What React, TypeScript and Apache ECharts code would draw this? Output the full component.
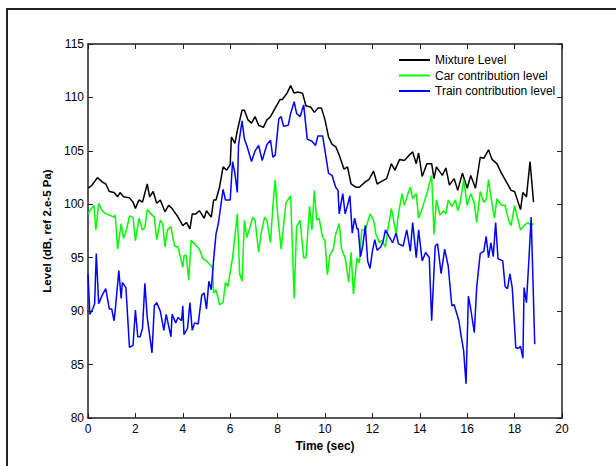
import React, { useEffect, useRef } from "react";
import * as echarts from "echarts";

const xTicks = { min: 0, max: 20, interval: 2 };
const yTicks = { min: 80, max: 115, interval: 5 };
const seriesNames = ["Mixture Level", "Car contribution level", "Train contribution level"];
const xTitle = "Time (sec)";
const yTitle = "Level (dB, ref 2.e-5 Pa)";

const mixture: [number, number][] = [
  [0, 101.5], [0.17, 101.8], [0.4, 102.5], [0.6, 102.1], [0.75, 101.9], [0.9, 101.2], [1.1, 101.1], [1.25, 100.7],
  [1.35, 101.1], [1.5, 100.7], [1.75, 100.6], [1.9, 100.2], [2.0, 99.6], [2.15, 100.4], [2.3, 100.2], [2.5, 101.9],
  [2.6, 100.7], [2.75, 101.2], [2.9, 100.1], [3.05, 100.4], [3.25, 99.3], [3.4, 99.9], [3.55, 99.6], [3.8, 98.8],
  [4.0, 98.0], [4.15, 98.3], [4.3, 97.7], [4.4, 99.1], [4.55, 99.1], [4.7, 99.4], [4.9, 98.7], [5.0, 99.4],
  [5.2, 98.8], [5.3, 100.4], [5.4, 100.4], [5.55, 101.6], [5.7, 103.5], [5.85, 103.2], [6.0, 103.7], [6.05, 106.3],
  [6.2, 105.7], [6.3, 106.9], [6.5, 108.8], [6.6, 108.8], [6.75, 107.9], [6.9, 107.6], [7.05, 108.2], [7.2, 107.4],
  [7.4, 107.2], [7.55, 107.9], [7.7, 108.2], [7.9, 109.0], [8.1, 109.8], [8.2, 109.8], [8.4, 110.4], [8.55, 111.1],
  [8.7, 110.4], [8.85, 110.5], [9.05, 110.4], [9.2, 109.2], [9.4, 109.1], [9.55, 108.6], [9.7, 109.0], [9.85, 109.0],
  [10.0, 107.9], [10.15, 106.3], [10.3, 105.6], [10.45, 105.4], [10.6, 104.6], [10.8, 103.3], [10.95, 103.5], [11.1, 101.9],
  [11.3, 101.6], [11.45, 101.6], [11.7, 102.1], [11.85, 102.3], [12.05, 103.1], [12.2, 101.9], [12.35, 102.1], [12.6, 102.4],
  [12.8, 103.8], [12.95, 103.2], [13.15, 104.2], [13.35, 104.1], [13.55, 104.6], [13.7, 104.9], [13.85, 103.8], [13.95, 104.8],
  [14.1, 102.6], [14.3, 103.8], [14.5, 103.8], [14.6, 102.4], [14.7, 103.5], [14.95, 102.7], [15.1, 103.4], [15.25, 101.8],
  [15.45, 102.4], [15.6, 101.3], [15.8, 102.9], [16.0, 101.5], [16.15, 102.7], [16.35, 101.5], [16.55, 104.4], [16.7, 104.3],
  [16.9, 105.1], [17.05, 104.2], [17.25, 103.8], [17.45, 102.9], [17.7, 101.9], [17.85, 101.3], [18.0, 101.2], [18.25, 99.5],
  [18.35, 101.1], [18.5, 100.7], [18.65, 104.0], [18.8, 100.2],
];

const car: [number, number][] = [
  [0, 99.1], [0.08, 99.4], [0.25, 99.9], [0.33, 97.6], [0.45, 100.1], [0.6, 99.4], [0.75, 99.1], [0.9, 99.0],
  [1.1, 98.8], [1.15, 99.0], [1.25, 95.8], [1.4, 98.2], [1.5, 96.8], [1.6, 97.4], [1.75, 98.9], [1.9, 98.8],
  [2.0, 96.6], [2.15, 98.7], [2.3, 97.6], [2.4, 97.8], [2.5, 99.5], [2.65, 99.1], [2.8, 98.8], [2.9, 96.7],
  [3.05, 98.5], [3.15, 98.2], [3.25, 96.0], [3.35, 97.6], [3.5, 97.9], [3.65, 96.1], [3.8, 96.0], [4.0, 94.1],
  [4.05, 95.2], [4.15, 95.2], [4.25, 92.9], [4.35, 96.6], [4.5, 96.3], [4.7, 95.8], [4.85, 94.9], [5.0, 94.7],
  [5.25, 94.1], [5.3, 91.7], [5.4, 92.0], [5.55, 90.6], [5.7, 90.8], [5.8, 92.7], [5.9, 92.3], [6.1, 95.0],
  [6.3, 99.1], [6.4, 93.5], [6.5, 92.8], [6.6, 98.5], [6.7, 96.9], [6.8, 97.6], [6.95, 98.8], [7.05, 98.5],
  [7.2, 95.5], [7.3, 97.2], [7.45, 98.8], [7.55, 98.5], [7.7, 96.4], [7.8, 99.8], [7.9, 102.3], [8.0, 99.1],
  [8.15, 95.8], [8.35, 100.1], [8.55, 100.8], [8.7, 91.2], [8.8, 97.9], [8.95, 98.5], [9.1, 95.0], [9.2, 95.0],
  [9.35, 99.8], [9.45, 97.6], [9.55, 101.3], [9.65, 98.5], [9.75, 98.7], [9.9, 96.9], [10.0, 96.6], [10.1, 93.4],
  [10.2, 95.2], [10.35, 95.8], [10.45, 97.2], [10.6, 98.2], [10.7, 95.8], [10.85, 95.0], [11.0, 92.7], [11.1, 95.5],
  [11.2, 91.6], [11.35, 95.0], [11.45, 94.5], [11.55, 97.6], [11.7, 97.6], [11.9, 99.1], [12.05, 98.5], [12.15, 97.2],
  [12.3, 96.4], [12.4, 96.6], [12.55, 96.0], [12.65, 97.6], [12.8, 99.6], [12.85, 99.1], [13.0, 97.2], [13.1, 99.1],
  [13.25, 101.0], [13.35, 99.9], [13.5, 101.0], [13.6, 101.6], [13.7, 100.5], [13.85, 101.0], [13.95, 98.7], [14.1, 99.6],
  [14.3, 101.0], [14.4, 101.9], [14.5, 102.7], [14.6, 97.2], [14.7, 100.4], [14.85, 99.0], [15.0, 99.4], [15.1, 99.1],
  [15.2, 100.4], [15.35, 99.8], [15.5, 100.4], [15.6, 99.4], [15.7, 100.1], [15.85, 102.3], [16.0, 99.9], [16.15, 101.0],
  [16.3, 100.1], [16.4, 98.3], [16.55, 101.2], [16.7, 100.2], [16.8, 100.4], [16.9, 102.3], [17.0, 100.7], [17.15, 98.7],
  [17.25, 100.5], [17.45, 99.9], [17.6, 99.9], [17.75, 98.5], [17.85, 98.0], [18.0, 99.9], [18.15, 98.5], [18.25, 97.6],
  [18.4, 98.0], [18.55, 98.3], [18.7, 98.0], [18.8, 98.2],
];

const train: [number, number][] = [
  [0, 93.5], [0.08, 89.7], [0.2, 90.2], [0.28, 90.7], [0.35, 95.4], [0.45, 90.7], [0.6, 91.5], [0.75, 92.1],
  [0.9, 90.2], [1.0, 90.2], [1.1, 89.1], [1.15, 90.1], [1.3, 93.8], [1.4, 91.2], [1.45, 92.7], [1.6, 92.2],
  [1.75, 86.6], [1.9, 86.8], [2.0, 90.1], [2.1, 87.6], [2.2, 87.6], [2.3, 88.4], [2.4, 92.6], [2.5, 89.4],
  [2.7, 86.1], [2.8, 90.5], [2.9, 90.8], [3.05, 90.0], [3.2, 88.2], [3.3, 89.7], [3.5, 87.6], [3.55, 89.7],
  [3.7, 88.9], [3.8, 89.4], [3.95, 89.1], [4.0, 90.5], [4.05, 87.8], [4.2, 88.4], [4.3, 90.8], [4.4, 88.2],
  [4.5, 88.9], [4.65, 88.8], [4.8, 91.5], [4.9, 91.7], [5.0, 90.2], [5.1, 92.8], [5.2, 92.0], [5.3, 94.8],
  [5.4, 97.2], [5.5, 98.2], [5.6, 99.8], [5.7, 101.4], [5.8, 100.4], [6.0, 100.4], [6.1, 104.0], [6.2, 102.9],
  [6.3, 101.1], [6.35, 105.5], [6.5, 107.8], [6.6, 106.1], [6.7, 105.5], [6.9, 104.0], [7.05, 105.0], [7.2, 105.5],
  [7.35, 104.1], [7.55, 105.6], [7.7, 106.0], [7.8, 104.4], [7.9, 104.6], [8.05, 108.0], [8.15, 108.2], [8.25, 107.3],
  [8.45, 107.4], [8.55, 108.5], [8.7, 109.6], [8.8, 108.5], [8.95, 108.2], [9.1, 109.3], [9.25, 106.1], [9.45, 105.9],
  [9.6, 105.5], [9.7, 106.4], [9.9, 106.4], [10.0, 105.0], [10.15, 102.9], [10.3, 102.7], [10.45, 101.6], [10.55, 101.3],
  [10.6, 99.1], [10.75, 101.0], [10.85, 99.1], [10.95, 99.9], [11.05, 100.8], [11.15, 97.3], [11.25, 98.7], [11.35, 97.7],
  [11.4, 97.7], [11.5, 95.1], [11.6, 96.2], [11.7, 98.0], [11.8, 94.7], [11.9, 94.0], [12.0, 95.6], [12.1, 96.7],
  [12.2, 95.7], [12.35, 96.0], [12.45, 96.5], [12.55, 97.6], [12.7, 97.0], [12.85, 96.4], [13.0, 97.3], [13.1, 96.3],
  [13.3, 96.1], [13.45, 97.6], [13.6, 95.6], [13.7, 98.3], [13.85, 95.0], [13.95, 97.6], [14.1, 94.7], [14.25, 95.5],
  [14.4, 95.0], [14.5, 89.1], [14.65, 96.1], [14.75, 96.3], [14.9, 93.5], [15.05, 95.8], [15.2, 94.2], [15.35, 90.5],
  [15.45, 90.6], [15.65, 89.1], [15.75, 87.6], [15.85, 86.3], [15.95, 83.2], [16.05, 91.4], [16.15, 90.2], [16.3, 88.0],
  [16.4, 92.2], [16.55, 95.4], [16.7, 95.6], [16.8, 97.0], [16.9, 95.0], [17.0, 96.4], [17.1, 95.1], [17.2, 98.3],
  [17.3, 94.9], [17.5, 94.7], [17.6, 92.3], [17.7, 92.1], [17.8, 93.5], [17.9, 92.2], [18.05, 86.6], [18.15, 86.5],
  [18.25, 86.7], [18.35, 85.6], [18.4, 92.2], [18.5, 90.8], [18.6, 94.7], [18.7, 98.8], [18.85, 86.9],
];

const seriesData = [mixture, car, train];
const seriesColors = ["#000000", "#00ff00", "#0000ff"];

export default function App() {
  const ref = useRef<HTMLDivElement>(null);
  useEffect(() => {
    if (!ref.current) return;
    const chart = echarts.init(ref.current, null, { renderer: "svg" });
    const font = "'Liberation Sans', Arial, sans-serif";
    const axisColor = "#222222";
    const baseX = {
      type: "value" as const,
      min: xTicks.min,
      max: xTicks.max,
      interval: xTicks.interval,
      splitLine: { show: false },
      axisLine: { show: true, onZero: false, lineStyle: { color: axisColor, width: 1.5 } },
      axisTick: { show: true, inside: true, length: 5, lineStyle: { color: axisColor, width: 1 } },
    };
    const baseY = {
      type: "value" as const,
      min: yTicks.min,
      max: yTicks.max,
      interval: yTicks.interval,
      splitLine: { show: false },
      axisLine: { show: true, onZero: false, lineStyle: { color: axisColor, width: 1.5 } },
      axisTick: { show: true, inside: true, length: 5, lineStyle: { color: axisColor, width: 1 } },
    };
    chart.setOption({
      animation: false,
      backgroundColor: "#ffffff",
      textStyle: { fontFamily: font },
      grid: { left: 88, right: 54, top: 44, bottom: 48, containLabel: false },
      xAxis: [
        {
          ...baseX,
          position: "bottom",
          name: xTitle,
          nameLocation: "middle",
          nameGap: 19,
          nameTextStyle: { color: "#000", fontSize: 12, fontWeight: "bold", fontFamily: font },
          axisLabel: { color: "#000", fontSize: 12, margin: 5, fontFamily: font },
        },
        { ...baseX, position: "top", axisLabel: { show: false } },
      ],
      yAxis: [
        {
          ...baseY,
          position: "left",
          name: yTitle,
          nameLocation: "middle",
          nameGap: 30,
          nameTextStyle: { color: "#000", fontSize: 11.5, fontWeight: "bold", fontFamily: font },
          axisLabel: { color: "#000", fontSize: 12, margin: 4, fontFamily: font },
        },
        { ...baseY, position: "right", axisLabel: { show: false } },
      ],
      legend: {
        show: true,
        orient: "vertical",
        left: 394,
        top: 49,
        itemWidth: 31,
        itemHeight: 2,
        itemGap: 3.5,
        icon: "rect",
        textStyle: { color: "#000", fontSize: 12, fontFamily: font },
        data: seriesNames,
      },
      graphic: [
        {
          type: "rect",
          silent: true,
          shape: { x: 7, y: 9, width: 700, height: 600 },
          style: { fill: "none", stroke: "#222222", lineWidth: 2 },
        },
      ],
      series: seriesNames.map((name, i) => ({
        name,
        type: "line",
        data: seriesData[i],
        xAxisIndex: 0,
        yAxisIndex: 0,
        showSymbol: false,
        symbol: "none",
        lineStyle: { color: seriesColors[i], width: 1.5 },
        itemStyle: { color: seriesColors[i] },
      })),
    });
    return () => chart.dispose();
  }, []);
  return (
    <div
      ref={ref}
      style={{ position: "fixed", left: 0, top: 0, width: 616, height: 466 }}
    />
  );
}
